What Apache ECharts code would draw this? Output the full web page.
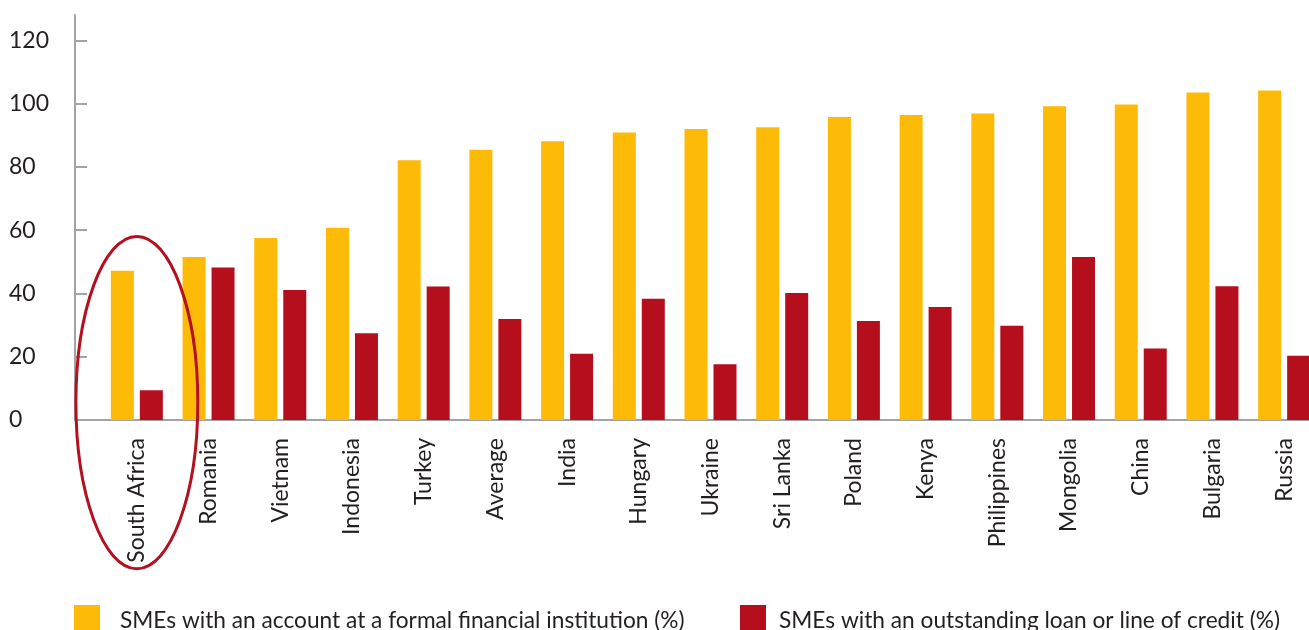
<!DOCTYPE html>
<html>
<head>
<meta charset="utf-8">
<script src="https://cdn.jsdelivr.net/npm/echarts@6/dist/echarts.min.js"></script>
<style>
  html, body { margin: 0; padding: 0; background: #fff; }
  #chart { width: 1309px; height: 630px; }
</style>
</head>
<body>
<div id="chart"></div>
<script>
// 国家 / 类别
const countries = ['South Africa', 'Romania', 'Vietnam', 'Indonesia', 'Turkey', 'Average', 'India',
  'Hungary', 'Ukraine', 'Sri Lanka', 'Poland', 'Kenya', 'Philippines', 'Mongolia', 'China',
  'Bulgaria', 'Russia']
// SMEs with an account at a formal financial institution (%)
const accountValues = [47.2, 51.5, 57.5, 60.8, 82.1, 85.4, 88.1, 90.9, 92.0, 92.5, 95.8, 96.4,
  96.9, 99.2, 99.7, 103.5, 104.1]
// SMEs with an outstanding loan or line of credit (%)
const loanValues = [9.4, 48.2, 41.1, 27.4, 42.2, 31.9, 20.9, 38.3, 17.6, 40.1, 31.3, 35.7,
  29.8, 51.5, 22.6, 42.3, 20.3]
const yTicks = [0, 20, 40, 60, 80, 100, 120]
const seriesNames = ['SMEs with an account at a formal financial institution (%)',
  'SMEs with an outstanding loan or line of credit (%)']

const FONT = 'Lato'
const TXT = '#231f20'
const AXIS = '#a3a3a3'
const YELLOW = '#fdbb08'
const RED = '#b50f1e'

const chart = echarts.init(document.getElementById('chart'))

// 图例：两个独立的legend，分别定位
// 图标用一个偏上的方块，让文字比方块略低一些
function makeLegend(name, left, gap) {
  return {
    data: [name],
    left: left,
    top: 605,
    padding: 0,
    icon: 'path://M0,0H26V25H0Z M26,32',
    itemWidth: 26,
    itemHeight: 32,
    selectedMode: false,
    textStyle: { fontFamily: FONT, fontSize: 22.7, color: TXT, padding: [0, 0, 0, gap] }
  }
}

const option = {
  animation: false,
  textStyle: { fontFamily: FONT },
  grid: [
    { left: 101, right: -11, top: 15, bottom: 210, containLabel: false, outerBoundsMode: 'none' },
    // 只用来画完整的横轴线
    { left: 75, right: 0, top: 15, bottom: 210, containLabel: false, outerBoundsMode: 'none' }
  ],
  legend: [
    makeLegend(seriesNames[0], 74, 15),
    makeLegend(seriesNames[1], 740, 8)
  ],
  xAxis: [
    {
      type: 'category',
      gridIndex: 0,
      data: countries,
      axisLine: { show: false },
      axisTick: { show: false },
      axisLabel: {
        rotate: 90,
        margin: 18,
        interval: 0,
        fontFamily: FONT,
        fontSize: 23,
        color: TXT
      }
    },
    {
      type: 'value',
      gridIndex: 1,
      axisLine: { show: true, lineStyle: { color: AXIS, width: 2 } },
      axisTick: { show: false },
      axisLabel: { show: false },
      splitLine: { show: false }
    }
  ],
  yAxis: [
    {
      type: 'value',
      gridIndex: 0,
      min: 0,
      max: 128,
      interval: 20,
      offset: 26,
      axisLine: { show: true, lineStyle: { color: AXIS, width: 2 } },
      axisTick: {
        show: true,
        inside: true,
        length: 12,
        customValues: yTicks,
        lineStyle: { color: AXIS, width: 2 }
      },
      axisLabel: {
        customValues: yTicks,
        align: 'left',
        margin: 66,
        fontFamily: FONT,
        fontSize: 23,
        color: TXT
      },
      splitLine: { show: false }
    },
    {
      type: 'value',
      gridIndex: 1,
      show: false
    }
  ],
  series: [
    {
      name: seriesNames[0],
      type: 'bar',
      data: accountValues,
      barWidth: 23,
      barGap: '26%',
      itemStyle: { color: YELLOW }
    },
    {
      name: seriesNames[1],
      type: 'bar',
      data: loanValues,
      barWidth: 23,
      barGap: '26%',
      itemStyle: { color: RED }
    }
  ]
}

chart.setOption(option)

// 圈出 South Africa 的椭圆
const ovalTop = chart.convertToPixel({ xAxisIndex: 0, yAxisIndex: 0 }, ['South Africa', 58])
const ovalMid = chart.convertToPixel({ xAxisIndex: 0, yAxisIndex: 0 }, ['South Africa', 5.5])
const ovalNext = chart.convertToPixel({ xAxisIndex: 0, yAxisIndex: 0 }, ['Romania', 5.5])
const band = ovalNext[0] - ovalMid[0]
chart.setOption({
  graphic: [{
    type: 'ellipse',
    z: 100,
    shape: { cx: ovalMid[0], cy: ovalMid[1], rx: band * 0.85, ry: ovalMid[1] - ovalTop[1] },
    style: { fill: 'none', stroke: '#b3111f', lineWidth: 3 }
  }]
})
</script>
</body>
</html>
